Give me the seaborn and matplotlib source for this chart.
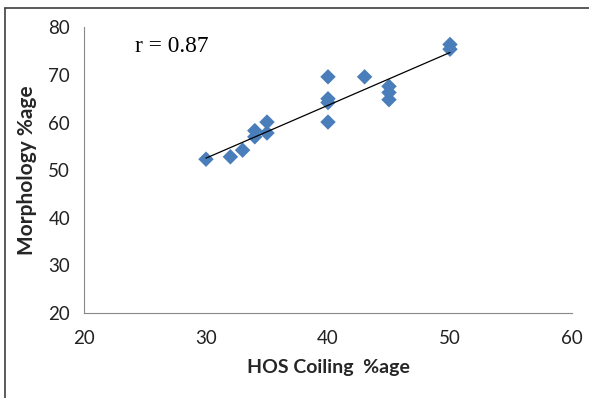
import matplotlib
matplotlib.use("Agg")
import matplotlib.pyplot as plt
from matplotlib.lines import Line2D
import seaborn as sns
import numpy as np
import pandas as pd

hos_coiling = [30, 32, 33, 34, 34, 35, 35, 40, 40, 40, 40, 43, 45, 45, 45, 50, 50]
morphology = [52.3, 52.8, 54.2, 58.3, 57.0, 60.1, 57.8, 69.6, 65.0, 64.2, 60.1,
              69.6, 67.6, 66.3, 64.8, 76.4, 75.4]
x_ticks = [20, 30, 40, 50, 60]
y_ticks = [20, 30, 40, 50, 60, 70, 80]

df = pd.DataFrame({"x": hos_coiling, "y": morphology})

sns.set_style("white")
plt.rcParams['font.family'] = ['Lato', 'DejaVu Sans']

fig = plt.figure(figsize=(5.89, 3.98), dpi=100)
ax = fig.add_axes([84/589, 1-313/398, (572-84)/589, (313-27.3)/398])

sns.regplot(data=df, x="x", y="y", ax=ax, ci=None, truncate=True,
            marker="D",
            scatter_kws=dict(s=62, color="#4A7EBB", edgecolor="none", alpha=1, zorder=2),
            line_kws=dict(color="black", lw=0.9, zorder=3))

ax.set_xlim(20, 60)
ax.set_ylim(20, 80)
ax.set_xticks(x_ticks)
ax.set_yticks(y_ticks)
ax.tick_params(axis="both", direction="out", length=5, width=0.8, color="#888888",
               labelsize=13.5, labelcolor="#222222", pad=5)
ax.tick_params(axis="x", pad=7)
for s in ["top", "right"]:
    ax.spines[s].set_visible(False)
for s in ["left", "bottom"]:
    ax.spines[s].set_color("#888888")
    ax.spines[s].set_linewidth(0.8)

ax.set_xlabel("HOS Coiling  %age", fontsize=14, fontweight="bold", labelpad=9)
ax.set_ylabel("Morphology %age", fontsize=15, fontweight="bold", labelpad=8)

ax.text(24.2, 75.9, "r = 0.87", family="Liberation Serif", fontsize=16.8,
        va="center", ha="left", color="black")

# outer frame (top and left edges visible)
fig.add_artist(Line2D([5/589, 1], [1-7.5/398, 1-7.5/398], transform=fig.transFigure,
                      color="#404040", lw=1.2))
fig.add_artist(Line2D([5/589, 5/589], [0, 1-7.5/398], transform=fig.transFigure,
                      color="#404040", lw=1.2))

fig.savefig("out.png", dpi=100)
